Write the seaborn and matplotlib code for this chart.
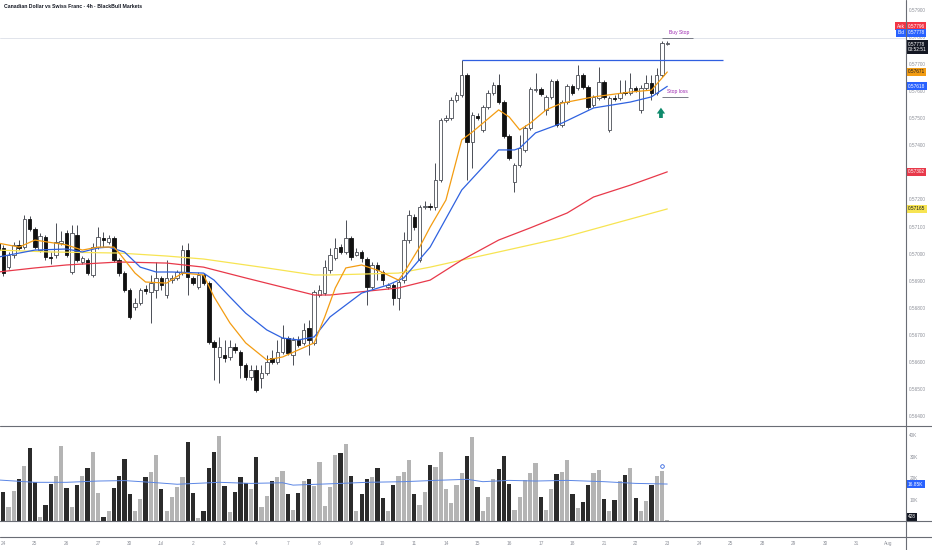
import matplotlib
matplotlib.use("Agg")
import matplotlib.pyplot as plt
from matplotlib.lines import Line2D
import numpy as np
import pandas as pd
import seaborn as sns

# CADCHF 4h candles
opens = [0.57039, 0.57021, 0.56950, 0.56995, 0.57032, 0.57024, 0.57128, 0.57091, 0.57013, 0.57061,
         0.56987, 0.56995, 0.57039, 0.57076, 0.56932, 0.57069, 0.56969, 0.56976, 0.56921, 0.57024,
         0.57058, 0.57043, 0.57058, 0.56976, 0.56928, 0.56865, 0.56803, 0.56817, 0.56869, 0.56858,
         0.56865, 0.56910, 0.56847, 0.56902, 0.56910, 0.56928, 0.57013, 0.56910, 0.56876, 0.56921,
         0.56891, 0.56673, 0.56618, 0.56625, 0.56618, 0.56655, 0.56636, 0.56588, 0.56544, 0.56570,
         0.56540, 0.56559, 0.56614, 0.56599, 0.56636, 0.56688, 0.56625, 0.56681, 0.56670, 0.56725,
         0.56670, 0.56847, 0.56854, 0.56939, 0.56984, 0.57024, 0.57006, 0.57058, 0.56995, 0.57006,
         0.56980, 0.56876, 0.56958, 0.56932, 0.56876, 0.56884, 0.56836, 0.56902, 0.57050, 0.57135,
         0.56976, 0.57172, 0.57176, 0.57172, 0.57272, 0.57494, 0.57501, 0.57568, 0.57586, 0.57660,
         0.57412, 0.57508, 0.57457, 0.57542, 0.57593, 0.57623, 0.57560, 0.57434, 0.57264, 0.57327,
         0.57383, 0.57464, 0.57604, 0.57608, 0.57531, 0.57579, 0.57638, 0.57475, 0.57560, 0.57619,
         0.57612, 0.57660, 0.57615, 0.57549, 0.57575, 0.57634, 0.57457, 0.57575, 0.57575, 0.57597,
         0.57593, 0.57612, 0.57531, 0.57612, 0.57630, 0.57593, 0.57660, 0.57774]
highs = [0.57050, 0.57032, 0.57006, 0.57043, 0.57050, 0.57143, 0.57139, 0.57098, 0.57076, 0.57069,
         0.57006, 0.57113, 0.57083, 0.57087, 0.57106, 0.57106, 0.56991, 0.56984, 0.57039, 0.57098,
         0.57080, 0.57069, 0.57065, 0.56984, 0.56936, 0.56873, 0.56836, 0.56873, 0.56884, 0.56921,
         0.56969, 0.56917, 0.56976, 0.56921, 0.56939, 0.57032, 0.57039, 0.56917, 0.56932, 0.56928,
         0.56899, 0.56681, 0.56692, 0.56681, 0.56681, 0.56670, 0.56644, 0.56596, 0.56588, 0.56588,
         0.56588, 0.56625, 0.56644, 0.56681, 0.56736, 0.56695, 0.56692, 0.56695, 0.56744, 0.56755,
         0.56865, 0.56884, 0.56976, 0.57021, 0.57058, 0.57035, 0.57124, 0.57065, 0.57021, 0.57013,
         0.56987, 0.56969, 0.56969, 0.56939, 0.56891, 0.56891, 0.56902, 0.57080, 0.57161, 0.57146,
         0.57179, 0.57194, 0.57187, 0.57335, 0.57501, 0.57512, 0.57579, 0.57597, 0.57715, 0.57667,
         0.57523, 0.57519, 0.57549, 0.57604, 0.57634, 0.57664, 0.57568, 0.57442, 0.57335, 0.57438,
         0.57475, 0.57615, 0.57667, 0.57615, 0.57586, 0.57645, 0.57645, 0.57568, 0.57627, 0.57627,
         0.57697, 0.57667, 0.57623, 0.57586, 0.57689, 0.57641, 0.57582, 0.57586, 0.57641, 0.57641,
         0.57667, 0.57619, 0.57623, 0.57660, 0.57660, 0.57686, 0.57785, 0.57785]
lows = [0.57006, 0.56917, 0.56943, 0.56984, 0.57013, 0.57017, 0.57083, 0.57017, 0.57006, 0.56976,
        0.56961, 0.56984, 0.57032, 0.56987, 0.56925, 0.56969, 0.56961, 0.56921, 0.56913, 0.57017,
        0.57024, 0.57035, 0.56969, 0.56917, 0.56858, 0.56758, 0.56791, 0.56810, 0.56851, 0.56744,
        0.56836, 0.56865, 0.56836, 0.56891, 0.56902, 0.56921, 0.56847, 0.56884, 0.56869, 0.56884,
        0.56666, 0.56533, 0.56522, 0.56599, 0.56607, 0.56633, 0.56540, 0.56533, 0.56533, 0.56489,
        0.56503, 0.56551, 0.56592, 0.56592, 0.56629, 0.56625, 0.56588, 0.56655, 0.56662, 0.56625,
        0.56662, 0.56840, 0.56847, 0.56928, 0.56976, 0.56999, 0.56999, 0.56976, 0.56991, 0.56969,
        0.56810, 0.56869, 0.56902, 0.56884, 0.56869, 0.56810, 0.56791, 0.56891, 0.57039, 0.57087,
        0.56969, 0.57165, 0.57161, 0.57161, 0.57264, 0.57486, 0.57494, 0.57560, 0.57579, 0.57272,
        0.57316, 0.57494, 0.57449, 0.57534, 0.57586, 0.57553, 0.57427, 0.57346, 0.57228, 0.57320,
        0.57375, 0.57457, 0.57597, 0.57582, 0.57512, 0.57571, 0.57468, 0.57468, 0.57553, 0.57586,
        0.57604, 0.57608, 0.57534, 0.57542, 0.57568, 0.57571, 0.57449, 0.57564, 0.57568, 0.57586,
        0.57586, 0.57597, 0.57519, 0.57604, 0.57568, 0.57586, 0.57652, 0.57770]
closes = [0.57013, 0.56928, 0.56995, 0.57032, 0.57021, 0.57128, 0.57091, 0.57024, 0.57065, 0.56987,
          0.56984, 0.57043, 0.57046, 0.56995, 0.57076, 0.56976, 0.56984, 0.56928, 0.57024, 0.57061,
          0.57050, 0.57058, 0.56976, 0.56928, 0.56865, 0.56766, 0.56817, 0.56865, 0.56862, 0.56891,
          0.56910, 0.56884, 0.56910, 0.56910, 0.56932, 0.57013, 0.56913, 0.56891, 0.56921, 0.56891,
          0.56673, 0.56655, 0.56655, 0.56614, 0.56655, 0.56644, 0.56588, 0.56544, 0.56570, 0.56496,
          0.56559, 0.56599, 0.56599, 0.56636, 0.56688, 0.56633, 0.56681, 0.56662, 0.56718, 0.56681,
          0.56858, 0.56865, 0.56950, 0.56995, 0.57021, 0.57006, 0.57058, 0.56987, 0.57006, 0.56984,
          0.56876, 0.56958, 0.56939, 0.56902, 0.56884, 0.56836, 0.56895, 0.57050, 0.57143, 0.57098,
          0.57172, 0.57176, 0.57172, 0.57272, 0.57494, 0.57501, 0.57568, 0.57586, 0.57660, 0.57412,
          0.57512, 0.57501, 0.57542, 0.57593, 0.57623, 0.57560, 0.57434, 0.57353, 0.57327, 0.57390,
          0.57464, 0.57608, 0.57608, 0.57590, 0.57579, 0.57638, 0.57475, 0.57560, 0.57619, 0.57593,
          0.57660, 0.57615, 0.57542, 0.57579, 0.57634, 0.57579, 0.57575, 0.57571, 0.57593, 0.57593,
          0.57612, 0.57604, 0.57612, 0.57630, 0.57593, 0.57660, 0.57778, 0.57778]
# volume in thousands
volumes = [29.9, 13.6, 6.7, 14.1, 19.4, 25.6, 34.1, 18.0, 2.0, 7.4, 17.4, 20.9, 35.0, 15.2, 6.7,
           16.7, 20.9, 24.5, 31.9, 12.9, 1.7, 4.7, 15.2, 20.9, 28.8, 12.7, 4.7, 10.2, 20.5, 22.9,
           30.7, 14.7, 4.7, 11.0, 16.0, 20.5, 36.6, 12.9, 1.6, 4.7, 24.5, 32.2, 39.7, 16.4, 4.3,
           13.6, 20.6, 17.8, 14.7, 29.8, 6.7, 11.5, 18.8, 20.6, 23.3, 12.6, 5.1, 13.2, 18.6, 19.5,
           16.4, 27.3, 7.0, 16.0, 30.7, 31.5, 35.7, 21.1, 4.8, 12.6, 19.5, 20.6, 24.5, 10.9, 4.8,
           16.7, 20.9, 22.9, 28.4, 12.6, 7.4, 13.6, 26.0, 25.0, 32.2, 14.7, 8.2, 16.7, 22.2, 30.2,
           38.9, 16.0, 4.8, 11.3, 19.4, 24.2, 30.4, 17.1, 5.1, 11.3, 19.1, 22.2, 27.1, 11.0, 5.1,
           14.7, 21.7, 22.9, 28.4, 12.6, 5.9, 9.0, 16.7, 22.2, 23.7, 10.2, 4.7, 9.8, 18.8, 21.4,
           24.8, 10.9, 4.7, 9.3, 16.7, 20.9, 23.3, 0.428]

# moving averages sampled along the lines (bar index, price)
fast_idx = [0, 4, 7, 13, 16, 19, 22, 23, 26, 28, 32, 35, 39, 41, 44, 47, 51, 54, 57, 60, 62, 64,
            66, 69, 72, 76, 77, 80, 82, 85, 88, 90, 95, 97, 99, 101, 104, 107, 113, 120, 124, 127]
fast_ma = [0.57039, 0.57024, 0.57050, 0.57032, 0.57013, 0.57024, 0.57024, 0.57002, 0.56928, 0.56895,
           0.56891, 0.56928, 0.56921, 0.56840, 0.56744, 0.56670, 0.56607, 0.56618, 0.56644, 0.56670,
           0.56766, 0.56873, 0.56947, 0.56958, 0.56939, 0.56902, 0.56928, 0.57024, 0.57098, 0.57198,
           0.57420, 0.57449, 0.57531, 0.57505, 0.57457, 0.57482, 0.57531, 0.57556, 0.57579, 0.57597,
           0.57604, 0.57671]
mid_idx = [0, 7, 13, 16, 19, 21, 24, 27, 30, 33, 39, 41, 44, 47, 51, 54, 57, 60, 63, 69, 74, 77,
           82, 88, 95, 98, 99, 102, 107, 113, 120, 124, 127]
mid_ma = [0.56987, 0.57013, 0.57017, 0.57006, 0.57021, 0.57024, 0.57006, 0.56950, 0.56932, 0.56932,
          0.56928, 0.56902, 0.56840, 0.56780, 0.56718, 0.56688, 0.56681, 0.56692, 0.56766, 0.56854,
          0.56884, 0.56910, 0.57024, 0.57235, 0.57383, 0.57383, 0.57390, 0.57446, 0.57482, 0.57538,
          0.57560, 0.57579, 0.57618]
slow_idx = [0, 7, 13, 23, 32, 39, 47, 54, 60, 63, 76, 82, 88, 95, 101, 108, 113, 120, 127]
slow_ma = [0.56932, 0.56947, 0.56958, 0.56969, 0.56965, 0.56950, 0.56910, 0.56876, 0.56847, 0.56847,
           0.56873, 0.56902, 0.56976, 0.57050, 0.57095, 0.57150, 0.57209, 0.57253, 0.57302]
long_idx = [0, 10, 23, 32, 39, 51, 60, 63, 76, 82, 88, 95, 107, 118, 127]
long_ma = [0.57013, 0.57006, 0.57002, 0.56991, 0.56980, 0.56947, 0.56921, 0.56921, 0.56928, 0.56950,
           0.56976, 0.57006, 0.57058, 0.57117, 0.57165]
vma_idx = [0, 7, 13, 19, 24, 29, 34, 42, 48, 54, 56, 64, 70, 77, 83, 89, 92, 97, 102, 108, 115, 121, 127]
vol_ma = [19.1, 18.0, 18.0, 18.6, 18.8, 18.0, 17.1, 18.0, 17.5, 17.8, 16.7, 17.4, 18.0, 18.3, 18.9,
          19.4, 18.3, 18.9, 18.6, 18.9, 18.3, 17.5, 17.2]

day_labels = ["24", "25", "26", "27", "30", "Jul", "2", "3", "4", "7", "8", "9", "10", "11", "14",
              "15", "16", "17", "18", "21", "22", "23", "24", "25", "28", "29", "30", "31", "Aug"]

resistance = 0.57715
buy_stop = 0.57797
stop_loss = 0.57579
ask, bid, last = 0.57796, 0.57778, 0.57778

sns.set_theme(style="white")
plt.rcParams["font.family"] = ["Liberation Sans", "DejaVu Sans"]

W, H = 932, 550
fig = plt.figure(figsize=(W / 100, H / 100), dpi=100)
fig.patch.set_facecolor("white")
ax = fig.add_axes([0, 1 - 426 / H, 906 / W, 426 / H])
axv = fig.add_axes([0, 1 - 537 / H, 906 / W, 111 / H])

df = pd.DataFrame(dict(o=opens, h=highs, l=lows, c=closes, v=volumes))
df["i"] = np.arange(len(df))
up = df.c >= df.o

edge = "#4a4d55"
ax.axhline(ask, color="#dcdfe8", lw=0.6, zorder=1)
ax.vlines(df.i, df.l, df.h, color=edge, lw=0.7, zorder=2)
body = (df.c - df.o).abs().clip(lower=0.000015)
bottom = df[["o", "c"]].min(axis=1)
ax.bar(df.i[up], body[up], bottom=bottom[up], width=0.66, color="white",
       edgecolor=edge, linewidth=0.6, zorder=3)
ax.bar(df.i[~up], body[~up], bottom=bottom[~up], width=0.66, color="#111111",
       edgecolor="#111111", linewidth=0.6, zorder=3)

for xs, ys, col in [(long_idx, long_ma, "#f7e452"), (slow_idx, slow_ma, "#e8394a"),
                    (mid_idx, mid_ma, "#2f62e0"), (fast_idx, fast_ma, "#f39c12")]:
    sns.lineplot(x=xs, y=ys, ax=ax, color=col, lw=0.9, zorder=4)

# drawings
ax.hlines(resistance, 88, 137.6, color="#2f5fe0", lw=0.9, zorder=5)
ax.hlines(buy_stop, 126, 131.9, color="#787b86", lw=0.7, zorder=5)
ax.text(127.3, 0.57806, "Buy Stop", fontsize=3.6, color="#9c27b0", va="bottom", ha="left")
ax.hlines(stop_loss, 126, 130.9, color="#787b86", lw=0.7, zorder=5)
ax.text(127.0, 0.57588, "Stop loss", fontsize=3.6, color="#9c27b0", va="bottom", ha="left")
ax.annotate("", xy=(125.8, 0.57539), xytext=(125.8, 0.57501),
            arrowprops=dict(arrowstyle="simple,head_length=0.7,head_width=1.0,tail_width=0.45",
                            color="#0f8a6c", lw=0, shrinkA=0, shrinkB=0, mutation_scale=6))

ax.set_xlim(0.38, 172.3)
ax.set_ylim(0.56363, 0.57937)
ax.set_xticks([])
ax.set_yticks(np.arange(0.564, 0.5795, 0.001))
ax.set_yticklabels([f"{t:.5f}" for t in np.arange(0.564, 0.5795, 0.001)])
ax.yaxis.tick_right()
ax.tick_params(axis="y", length=0, pad=2.4, labelsize=3.4, labelcolor="#8d9099")
ax.set_xlabel("")
ax.set_ylabel("")
for s in ax.spines.values():
    s.set_visible(False)

# volume pane
axv.bar(df.i, df.v, width=0.8, color=np.where(up, "#b4b4b4", "#2b2b2b"), linewidth=0, zorder=2)
sns.lineplot(x=vma_idx, y=vol_ma, ax=axv, color="#5b86e5", lw=0.7, zorder=4)
axv.plot(126, 25.6, marker="o", mfc="none", mec="#2f62e0", ms=2.6, mew=0.6)
axv.set_xlim(0.38, 172.3)
axv.set_ylim(-7.44, 44.2)
axv.set_yticks([10, 20, 30, 40])
axv.set_yticklabels(["10K", "20K", "30K", "40K"])
axv.yaxis.tick_right()
axv.set_xticks([1 + 6 * k for k in range(len(day_labels))])
axv.set_xticklabels(day_labels)
axv.tick_params(axis="y", length=0, pad=2.4, labelsize=3.4, labelcolor="#8d9099")
axv.tick_params(axis="x", length=0, pad=2.6, labelsize=3.4, labelcolor="#8d9099")
axv.set_xlabel("")
axv.set_ylabel("")
for s in axv.spines.values():
    s.set_visible(False)

# pane separators
for y in (426, 521, 537):
    fig.add_artist(Line2D([0, 1], [1 - y / H] * 2, transform=fig.transFigure, color="#6a6d75", lw=0.8))
fig.add_artist(Line2D([906 / W] * 2, [0, 1], transform=fig.transFigure, color="#6a6d75", lw=0.8))


def tag(a, y, text, bg, fg="white", trans=None, x=1.002, ha="left"):
    a.text(x, y, text, transform=trans or a.get_yaxis_transform(), ha=ha, va="center",
           fontsize=3.4, color=fg, linespacing=1.15, clip_on=False, zorder=10,
           bbox=dict(boxstyle="square,pad=0.3", fc=bg, ec="none"))


tag(ax, 1 - 26 / 426, f"{ask:.5f}", "#f23645", trans=ax.transAxes)
tag(ax, 1 - 26 / 426, "Ask", "#f23645", trans=ax.transAxes, x=0.9985, ha="right")
tag(ax, 1 - 33 / 426, f"{bid:.5f}", "#2962ff", trans=ax.transAxes)
tag(ax, 1 - 33 / 426, "Bid", "#2962ff", trans=ax.transAxes, x=0.9985, ha="right")
tag(ax, 1 - 47 / 426, f"{last:.5f}\n03:52:51", "#131722", trans=ax.transAxes)
tag(ax, fast_ma[-1], f"{fast_ma[-1]:.5f}", "#f39c12", fg="#131722")
tag(ax, mid_ma[-1], f"{mid_ma[-1]:.5f}", "#2962ff")
tag(ax, slow_ma[-1], f"{slow_ma[-1]:.5f}", "#e8394a")
tag(ax, long_ma[-1], f"{long_ma[-1]:.5f}", "#f7e452", fg="#131722")
tag(axv, vol_ma[-1], "16.85K", "#2962ff")
tag(axv, 1.9, "428", "#131722")

fig.text(4 / W, 1 - 7 / H, "Canadian Dollar vs Swiss Franc · 4h · BlackBull Markets",
         fontsize=3.7, color="#131722", va="center", ha="left", fontweight="semibold")

fig.savefig("out.png", dpi=100, facecolor="white")
